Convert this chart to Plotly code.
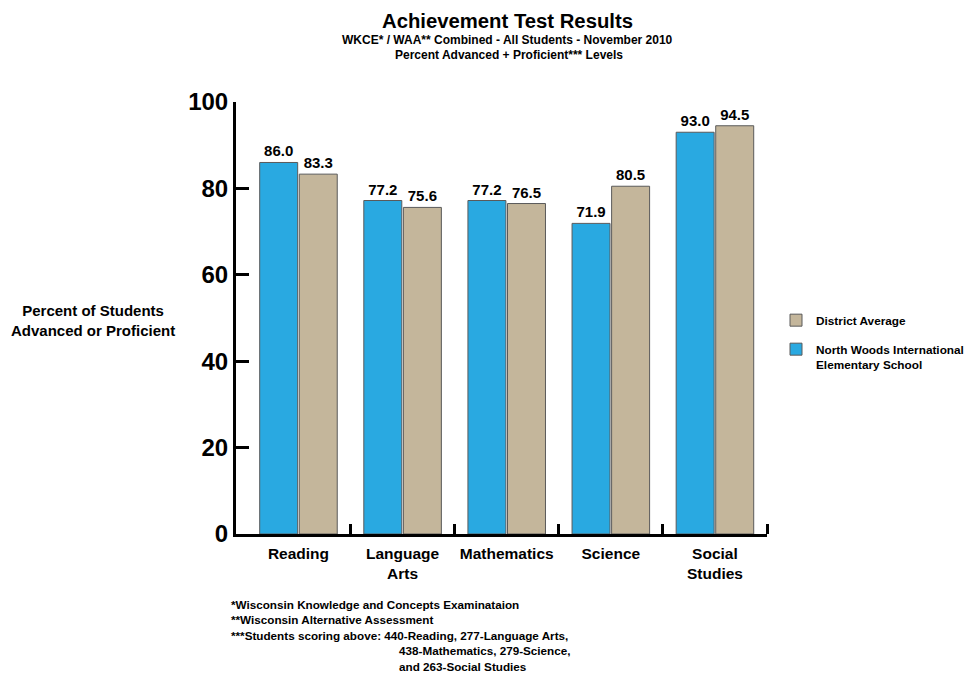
import plotly.graph_objects as go

categories = ["Reading", "Language<br>Arts", "Mathematics", "Science", "Social<br>Studies"]
school_values = [86.0, 77.2, 77.2, 71.9, 93.0]
district_values = [83.3, 75.6, 76.5, 80.5, 94.5]
school_name = "North Woods International<br>Elementary School"
district_name = "District Average"
y_ticks = [0, 20, 40, 60, 80, 100]
footnotes = [
    "*Wisconsin Knowledge and Concepts Examinataion",
    "**Wisconsin Alternative Assessment",
    "***Students scoring above: 440-Reading, 277-Language Arts,",
]
footnotes_indented = [
    "438-Mathematics, 279-Science,",
    "and 263-Social Studies",
]

FONT = "Liberation Sans"
BLUE = "#29A9E1"
TAN = "#C4B69B"
OUTLINE = "#5a5a5a"

xpos = list(range(len(categories)))

fig = go.Figure()
fig.add_trace(go.Bar(
    x=xpos, y=school_values, name="<b>%s</b>" % school_name, legendgroup="a", legendrank=2,
    marker=dict(color=BLUE, line=dict(color=OUTLINE, width=1)),
    texttemplate="<b>%{y:.1f}</b>", textposition="outside",
    textfont=dict(family=FONT, size=15, color="black"),
    cliponaxis=False, constraintext="none",
))
fig.add_trace(go.Bar(
    x=xpos, y=district_values, name="<b>%s</b>" % district_name, legendgroup="b", legendrank=1,
    marker=dict(color=TAN, line=dict(color=OUTLINE, width=1)),
    texttemplate="<b>%{y:.1f}</b>", textposition="outside",
    textfont=dict(family=FONT, size=15, color="black"),
    cliponaxis=False, constraintext="none",
))

fig.update_layout(
    width=972, height=673,
    margin=dict(l=236, r=205, t=102, b=139, autoexpand=False),
    paper_bgcolor="white", plot_bgcolor="white",
    font=dict(family=FONT, color="black"),
    barmode="group", bargap=0.24, bargroupgap=0.04,
    showlegend=True,
    legend=dict(
        x=(776 - 236) / 531, y=(534 - 306) / 432, xanchor="left", yanchor="top",
        traceorder="grouped",
        font=dict(family=FONT, size=11.8, color="black"),
        tracegroupgap=10,
        valign="top",
        bgcolor="rgba(0,0,0,0)",
    ),
    xaxis=dict(
        range=[-0.6, 4.5],
        tickmode="array", tickvals=xpos, ticktext=["<b>%s</b>" % c for c in categories],
        ticks="", tickfont=dict(family=FONT, size=15.5, color="black"),
        showline=True, linecolor="black", linewidth=3,
        showgrid=False, zeroline=False,
        minor=dict(tickmode="array", tickvals=[i + 0.5 for i in xpos],
                   ticks="inside", ticklen=10, tickwidth=3, tickcolor="black", showgrid=False),
        ticklabelstandoff=3,
    ),
    yaxis=dict(
        range=[0, 100],
        tickmode="array", tickvals=y_ticks, ticktext=["<b>%d</b>" % v for v in y_ticks],
        ticks="inside", ticklen=13, tickwidth=3, tickcolor="black",
        tickfont=dict(family=FONT, size=24, color="black"),
        showline=True, linecolor="black", linewidth=3,
        showgrid=False, zeroline=False,
    ),
)

L, R, T, B = 236, 767, 102, 534
def px_to_paper(px, py):
    return (px - L) / (R - L), (B - py) / (B - T)

annotations = [
    dict(text="<b>Achievement Test Results</b>", x=507, y=21, size=20.3),
    dict(text="<b>WKCE* / WAA** Combined - All Students - November 2010</b>", x=507, y=40, size=12),
    dict(text="<b>Percent Advanced + Proficient*** Levels</b>", x=509, y=55, size=12),
    dict(text="<b>Percent of Students<br>Advanced or Proficient</b>", x=93, y=320, size=15),
]
for a in annotations:
    xp, yp = px_to_paper(a["x"], a["y"])
    fig.add_annotation(
        text=a["text"], x=xp, y=yp, xref="paper", yref="paper",
        showarrow=False, xanchor="center", yanchor="middle",
        font=dict(family=FONT, size=a["size"], color="black"),
    )

for t, yy in zip(footnotes, [604, 619, 635]):
    xp, yp = px_to_paper(229, yy)
    fig.add_annotation(text="<b>%s</b>" % t, x=xp, y=yp, xref="paper", yref="paper",
                       showarrow=False, xanchor="left", yanchor="middle",
                       font=dict(family=FONT, size=11.7, color="black"))
for t, yy in zip(footnotes_indented, [650, 666]):
    xp, yp = px_to_paper(397, yy)
    fig.add_annotation(text="<b>%s</b>" % t, x=xp, y=yp, xref="paper", yref="paper",
                       showarrow=False, xanchor="left", yanchor="middle",
                       font=dict(family=FONT, size=11.7, color="black"))

fig.write_html("out.html")
